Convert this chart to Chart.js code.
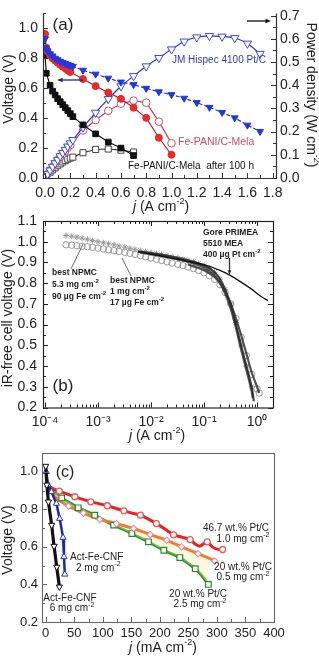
<!DOCTYPE html>
<html>
<head>
<meta charset="utf-8">
<script src="https://cdn.jsdelivr.net/npm/chart.js@4.4.1/dist/chart.umd.min.js"></script>
<style>
  html, body { margin: 0; padding: 0; background: #fff; }
  #wrap { position: relative; width: 319px; height: 665px; overflow: hidden; }
  canvas { position: absolute; left: 0; top: 0; }
</style>
</head>
<body>
<div id="wrap">
  <canvas id="chartA" width="319" height="665"></canvas>
  <canvas id="chartB" width="319" height="665"></canvas>
  <canvas id="chartC" width="319" height="665"></canvas>
</div>
<script>
// ---- panel (a): polarization + power density ----
const jmJ = [0, 0.005, 0.02, 0.04, 0.06, 0.08, 0.10, 0.12, 0.14, 0.16, 0.18, 0.20, 0.22, 0.3, 0.4, 0.5, 0.6, 0.7, 0.8, 0.9, 1.0, 1.1, 1.2, 1.3, 1.4, 1.5, 1.6, 1.7];
const jmV = [0.93, 0.87, 0.85, 0.83, 0.815, 0.80, 0.79, 0.78, 0.772, 0.765, 0.758, 0.752, 0.746, 0.72, 0.694, 0.667, 0.641, 0.624, 0.599, 0.576, 0.557, 0.533, 0.504, 0.472, 0.438, 0.402, 0.353, 0.311];
const jmP = [0, 0.004, 0.017, 0.033, 0.049, 0.064, 0.079, 0.094, 0.108, 0.122, 0.136, 0.150, 0.164, 0.218, 0.282, 0.341, 0.396, 0.44, 0.482, 0.518, 0.555, 0.589, 0.607, 0.613, 0.61, 0.604, 0.58, 0.536];

const feJ = [0, 0.01, 0.02, 0.04, 0.06, 0.08, 0.10, 0.12, 0.14, 0.16, 0.18, 0.20, 0.3, 0.4, 0.5, 0.6, 0.7, 0.8, 0.9, 1.0];
const feV = [0.963, 0.87, 0.845, 0.82, 0.80, 0.785, 0.77, 0.757, 0.745, 0.733, 0.72, 0.708, 0.662, 0.614, 0.571, 0.529, 0.47, 0.402, 0.269, 0.155];
const feP = [0, 0.009, 0.017, 0.033, 0.048, 0.063, 0.077, 0.091, 0.104, 0.117, 0.13, 0.142, 0.205, 0.25, 0.29, 0.32, 0.334, 0.325, 0.243, 0.15];

const agedJ = [0, 0.01, 0.04, 0.06, 0.08, 0.10, 0.12, 0.14, 0.16, 0.18, 0.20, 0.22, 0.3, 0.4, 0.5, 0.6, 0.7];
const agedV = [0.82, 0.70, 0.62, 0.58, 0.555, 0.53, 0.51, 0.49, 0.47, 0.45, 0.43, 0.41, 0.355, 0.295, 0.24, 0.20, 0.15];
const agedP = [0, 0.007, 0.025, 0.035, 0.044, 0.053, 0.061, 0.069, 0.075, 0.081, 0.086, 0.09, 0.109, 0.123, 0.125, 0.12, 0.112];

const aXTicks = [0, 0.2, 0.4, 0.6, 0.8, 1.0, 1.2, 1.4, 1.6, 1.8];
const aYTicks = [0, 0.2, 0.4, 0.6, 0.8, 1.0];
const aY1Ticks = [0, 0.1, 0.2, 0.3, 0.4, 0.5, 0.6, 0.7];

// ---- panel (b): iR-free voltage, log current ----
const starJ = [2.5e-4, 3.2e-4, 4.0e-4, 5.0e-4, 6.3e-4, 7.9e-4, 1.0e-3, 1.26e-3, 1.58e-3, 2.0e-3, 2.5e-3, 3.2e-3, 4.0e-3, 5.0e-3, 6.3e-3, 7.9e-3, 1.0e-2, 1.26e-2, 1.58e-2, 2.0e-2, 2.5e-2, 3.2e-2, 4.0e-2, 5.0e-2, 6.3e-2, 7.9e-2, 0.1, 0.126, 0.158, 0.2, 0.25, 0.32, 0.4, 0.5, 0.63, 0.79];
const starV = [1.030, 1.026, 1.022, 1.017, 1.012, 1.006, 1.000, 0.995, 0.990, 0.985, 0.979, 0.974, 0.968, 0.963, 0.958, 0.953, 0.948, 0.943, 0.938, 0.933, 0.928, 0.922, 0.916, 0.910, 0.904, 0.895, 0.885, 0.872, 0.852, 0.82, 0.77, 0.70, 0.61, 0.50, 0.40, 0.30];
const circJ = [2.5e-4, 3.2e-4, 4.0e-4, 5.0e-4, 6.3e-4, 7.9e-4, 1.0e-3, 1.26e-3, 1.58e-3, 2.0e-3, 2.5e-3, 3.2e-3, 4.0e-3, 5.0e-3, 6.3e-3, 7.9e-3, 1.0e-2, 1.26e-2, 1.58e-2, 2.0e-2, 2.5e-2, 3.2e-2, 4.0e-2, 5.0e-2, 6.3e-2, 7.9e-2, 0.1, 0.126, 0.158, 0.2, 0.25, 0.32, 0.4, 0.5, 0.63, 0.79, 1.0, 1.1];
const circV = [0.985, 0.983, 0.981, 0.978, 0.976, 0.973, 0.969, 0.965, 0.961, 0.957, 0.953, 0.949, 0.944, 0.939, 0.933, 0.927, 0.921, 0.915, 0.909, 0.903, 0.897, 0.891, 0.885, 0.878, 0.870, 0.861, 0.850, 0.836, 0.818, 0.793, 0.755, 0.70, 0.63, 0.54, 0.45, 0.36, 0.29, 0.27];
const dark1J = [0.0057, 0.01, 0.02, 0.032, 0.05, 0.079, 0.1, 0.126, 0.158, 0.2, 0.25, 0.32, 0.4, 0.5, 0.63, 0.79, 0.87];
const dark1V = [0.952, 0.945, 0.933, 0.922, 0.91, 0.895, 0.885, 0.872, 0.852, 0.82, 0.77, 0.695, 0.60, 0.50, 0.40, 0.30, 0.23];
const dark2J = [0.0063, 0.01, 0.02, 0.032, 0.05, 0.079, 0.1, 0.126, 0.158, 0.2, 0.25, 0.32, 0.4, 0.5, 0.63, 0.79, 0.83];
const dark2V = [0.948, 0.94, 0.927, 0.915, 0.903, 0.886, 0.874, 0.858, 0.836, 0.80, 0.75, 0.675, 0.585, 0.48, 0.38, 0.28, 0.245];
const dark3J = [0.05, 0.079, 0.1, 0.126, 0.158, 0.2, 0.25, 0.32, 0.4, 0.5, 0.63, 0.79, 1.0, 1.1];
const dark3V = [0.89, 0.873, 0.862, 0.848, 0.83, 0.80, 0.757, 0.70, 0.63, 0.55, 0.46, 0.37, 0.30, 0.27];
const goreJ = [0.0057, 0.01, 0.02, 0.05, 0.1, 0.2, 0.3, 0.5, 0.8, 1.0, 1.3, 1.6];
const goreV = [0.952, 0.94, 0.925, 0.905, 0.889, 0.862, 0.84, 0.805, 0.77, 0.75, 0.73, 0.716];

const bXTicks = [1e-4, 1e-3, 1e-2, 1e-1, 1];
const bXLabels = ['10\u207B\u2074', '10\u207B\u00B3', '10\u207B\u00B2', '10\u207B\u00B9', '10\u2070'];
const bYTicks = [0.2, 0.3, 0.4, 0.5, 0.6, 0.7, 0.8, 0.9, 1.0, 1.1];

// ---- panel (c): voltage vs mA cm-2 ----
const redLineJ = [2, 10, 24, 37, 51, 65, 79, 93, 108, 122, 137, 151, 166, 180, 194, 209, 224, 238, 253, 262, 270, 283, 292, 300, 310];
const redLineV = [0.94, 0.915, 0.897, 0.882, 0.867, 0.853, 0.84, 0.83, 0.819, 0.806, 0.792, 0.78, 0.769, 0.748, 0.724, 0.695, 0.664, 0.652, 0.639, 0.615, 0.604, 0.627, 0.60, 0.588, 0.586];
const redMarkJ = [24, 51, 79, 108, 137, 166, 194, 224, 253, 283, 310];
const redMarkV = [0.897, 0.867, 0.84, 0.819, 0.792, 0.769, 0.724, 0.664, 0.639, 0.627, 0.586];

const orLineJ = [2, 10, 22, 40, 55, 70, 95, 110, 124, 140, 154, 168, 183, 197, 212, 225, 238, 253, 267, 282, 296];
const orLineV = [0.94, 0.89, 0.85, 0.817, 0.795, 0.775, 0.746, 0.735, 0.724, 0.71, 0.698, 0.683, 0.666, 0.651, 0.636, 0.618, 0.60, 0.582, 0.564, 0.545, 0.525];
const orMarkJ = [40, 66, 95, 124, 154, 183, 212, 238, 267, 296];
const orMarkV = [0.817, 0.78, 0.746, 0.724, 0.698, 0.666, 0.636, 0.60, 0.564, 0.525];

const grLineJ = [2, 10, 28, 42, 57, 72, 86, 100, 119, 135, 151, 165, 180, 193, 207, 221, 235, 248, 262, 274, 285];
const grLineV = [0.945, 0.91, 0.861, 0.835, 0.808, 0.788, 0.769, 0.745, 0.716, 0.694, 0.671, 0.649, 0.627, 0.605, 0.582, 0.563, 0.543, 0.515, 0.484, 0.445, 0.40];
const grMarkJ = [28, 57, 86, 119, 151, 180, 207, 235, 262, 285];
const grMarkV = [0.861, 0.808, 0.769, 0.716, 0.671, 0.627, 0.582, 0.543, 0.484, 0.40];

const cnf2J = [1, 4, 10, 18.7, 24.5, 30.4, 32, 33.5];
const cnf2V = [1.0, 0.93, 0.893, 0.831, 0.751, 0.65, 0.547, 0.454];
const cnf6J = [0, 2, 4.7, 10.5, 14.6, 19.3, 24];
const cnf6V = [1.03, 0.93, 0.84, 0.716, 0.604, 0.493, 0.387];

const cXTicks = [0, 50, 100, 150, 200, 250, 300, 350, 400];
const cYTicks = [0.2, 0.4, 0.6, 0.8, 1.0];

const FONT = '"Liberation Sans", Arial, sans-serif';
Chart.defaults.font.family = FONT;
Chart.defaults.color = '#222';

function pts(xs, ys) { return xs.map((x, i) => ({ x: x, y: ys[i] })); }

// box = width (vertical) or height (horizontal) of the scale box, so labels are not clipped
function axis(pos, type, min, max, ticks, fmt, size, pad, box) {
  return {
    type: type, position: pos, min: min, max: max,
    grid: { display: false, drawTicks: false },
    border: { display: false },
    afterFit: s => { if (s.isHorizontal()) s.height = box; else s.width = box; },
    afterBuildTicks: s => { s.ticks = ticks.map(v => ({ value: v })); },
    ticks: { autoSkip: false, maxRotation: 0, padding: pad, color: '#222', font: { size: size }, callback: fmt }
  };
}

function steps(a, b, s) {
  const out = [];
  for (let v = a; v <= b + 1e-9; v += s) out.push(v);
  return out;
}

function ticksOn(ctx, scale, vals, len, edge, a) {
  ctx.beginPath();
  vals.forEach(v => {
    const p = Math.round(scale.getPixelForValue(v)) + 0.5;
    if (edge === 'bottom') { ctx.moveTo(p, a.bottom); ctx.lineTo(p, a.bottom - len); }
    if (edge === 'top') { ctx.moveTo(p, a.top); ctx.lineTo(p, a.top + len); }
    if (edge === 'left') { ctx.moveTo(a.left, p); ctx.lineTo(a.left + len, p); }
    if (edge === 'right') { ctx.moveTo(a.right, p); ctx.lineTo(a.right - len, p); }
  });
  ctx.stroke();
}

// parts: [text, style] with style '' | 'i' | 'sup'
function rich(ctx, parts, x, y, size, opt) {
  opt = opt || {};
  ctx.save();
  ctx.translate(x, y);
  if (opt.rot) ctx.rotate(opt.rot);
  ctx.fillStyle = opt.color || '#222';
  ctx.textBaseline = 'middle';
  ctx.textAlign = 'left';
  const b = opt.bold ? 'bold ' : '';
  const fontOf = p => (p[1] === 'i' ? 'italic ' : '') + b + (p[1] === 'sup' ? Math.round(size * 0.65) : size) + 'px ' + FONT;
  let w = 0;
  parts.forEach(p => { ctx.font = fontOf(p); w += ctx.measureText(p[0]).width; });
  let cx = opt.align === 'left' ? 0 : opt.align === 'right' ? -w : -w / 2;
  parts.forEach(p => {
    ctx.font = fontOf(p);
    ctx.fillText(p[0], cx, p[1] === 'sup' ? -size * 0.38 : 0);
    cx += ctx.measureText(p[0]).width;
  });
  ctx.restore();
}

function arrow(ctx, x1, y1, x2, y2, color, head) {
  ctx.save();
  ctx.strokeStyle = color; ctx.fillStyle = color; ctx.lineWidth = 1.3;
  const ang = Math.atan2(y2 - y1, x2 - x1);
  ctx.beginPath(); ctx.moveTo(x1, y1); ctx.lineTo(x2 - head * 0.7 * Math.cos(ang), y2 - head * 0.7 * Math.sin(ang)); ctx.stroke();
  ctx.beginPath();
  ctx.moveTo(x2, y2);
  ctx.lineTo(x2 - head * Math.cos(ang - 0.38), y2 - head * Math.sin(ang - 0.38));
  ctx.lineTo(x2 - head * Math.cos(ang + 0.38), y2 - head * Math.sin(ang + 0.38));
  ctx.closePath(); ctx.fill();
  ctx.restore();
}

function line(ctx, x1, y1, x2, y2, color, w) {
  ctx.save();
  ctx.strokeStyle = color; ctx.lineWidth = w;
  ctx.beginPath(); ctx.moveTo(x1, y1); ctx.lineTo(x2, y2); ctx.stroke();
  ctx.restore();
}

const cm2 = lead => [[lead, ''], ['-2', 'sup']];

// ---------------- chart (a) ----------------
function decorA(chart) {
  const { ctx, chartArea: a, scales } = chart;
  ctx.save();
  ctx.strokeStyle = '#333'; ctx.lineWidth = 1.2;
  ctx.beginPath();
  ctx.moveTo(a.left + 0.5, a.top); ctx.lineTo(a.left + 0.5, a.bottom + 0.5);
  ctx.lineTo(a.right + 0.5, a.bottom + 0.5); ctx.lineTo(a.right + 0.5, a.top);
  ctx.stroke();
  ctx.lineWidth = 1;
  ticksOn(ctx, scales.x, aXTicks, 5, 'bottom', a);
  ticksOn(ctx, scales.x, steps(0.1, 1.7, 0.2), 3, 'bottom', a);
  ticksOn(ctx, scales.y, aYTicks, 5, 'left', a);
  ticksOn(ctx, scales.y, steps(0.1, 1.1, 0.2), 3, 'left', a);
  ticksOn(ctx, scales.y1, aY1Ticks, 5, 'right', a);
  ticksOn(ctx, scales.y1, steps(0.05, 0.65, 0.1), 3, 'right', a);
  ctx.restore();

  rich(ctx, [['Voltage (V)', '']], 9, 89, 14, { rot: -Math.PI / 2 });
  rich(ctx, [['Power density (W cm', ''], ['-2', 'sup'], [')', '']], 311, 95, 14, { rot: Math.PI / 2 });
  rich(ctx, [['j', 'i'], [' (A cm', ''], ['-2', 'sup'], [')', '']], 161, 207, 14);
  rich(ctx, [['(a)', '']], 63, 25, 17);
  rich(ctx, [['JM Hispec 4100 Pt/C', '']], 172, 60, 10, { align: 'left', color: '#2a3ad0' });
  rich(ctx, [['Fe-PANI/C-Mela', '']], 178, 142, 10.5, { align: 'left', color: '#d04a6a' });
  rich(ctx, [['Fe-PANI/C-Mela  after 100 h', '']], 128, 166, 10, { align: 'left', color: '#111' });
  arrow(ctx, 83, 80, 57, 80, '#1b2a8a', 6);
  arrow(ctx, 247, 21, 271, 21, '#111', 6);
}

new Chart(document.getElementById('chartA'), {
  type: 'scatter',
  data: {
    datasets: [
      { data: pts(jmJ, jmV), yAxisID: 'y', showLine: true, borderColor: '#2336e0', borderWidth: 1.2, borderDash: [4, 2],
        pointStyle: 'triangle', rotation: 180, pointRadius: 4, pointBackgroundColor: '#2336e0', pointBorderColor: '#2336e0', pointBorderWidth: 1 },
      { data: pts(feJ, feV), yAxisID: 'y', showLine: true, borderColor: '#b3283a', borderWidth: 1.2,
        pointStyle: 'circle', pointRadius: 3.5, pointBackgroundColor: '#ee2a2a', pointBorderColor: '#e02828', pointBorderWidth: 1 },
      { data: pts(agedJ, agedV), yAxisID: 'y', showLine: true, borderColor: '#111', borderWidth: 1.2,
        pointStyle: 'rect', pointRadius: 4, pointBackgroundColor: '#111', pointBorderColor: '#111', pointBorderWidth: 1 },
      { data: pts(jmJ, jmP), yAxisID: 'y1', showLine: true, borderColor: '#2336e0', borderWidth: 1.2, tension: 0.2,
        pointStyle: 'triangle', rotation: 180, pointRadius: 4.8, pointBackgroundColor: '#fff', pointBorderColor: '#3a4ae0', pointBorderWidth: 1 },
      { data: pts(feJ, feP), yAxisID: 'y1', showLine: true, borderColor: '#b8405a', borderWidth: 1.2,
        pointStyle: 'circle', pointRadius: 3.8, pointBackgroundColor: '#fff', pointBorderColor: '#c0506c', pointBorderWidth: 1 },
      { data: pts(agedJ, agedP), yAxisID: 'y1', showLine: true, borderColor: '#333', borderWidth: 1.2,
        pointStyle: 'rect', pointRadius: 4.3, pointBackgroundColor: '#fff', pointBorderColor: '#444', pointBorderWidth: 1 }
    ]
  },
  options: {
    responsive: false, animation: false, devicePixelRatio: 1,
    layout: { padding: { left: 0, right: 0, top: 5, bottom: 462 } },
    plugins: { legend: { display: false }, tooltip: { enabled: false } },
    scales: {
      x: axis('bottom', 'linear', -0.016, 1.826, aXTicks, v => v.toFixed(1), 14, 7, 25),
      y: axis('left', 'linear', 0, 1.1, aYTicks, v => v.toFixed(1), 14, 5, 43),
      y1: axis('right', 'linear', 0, 0.71, aY1Ticks, v => v.toFixed(1), 14, 4, 43)
    }
  },
  plugins: [{ id: 'decorA', afterDraw: decorA }]
});

// ---------------- chart (b) ----------------
function decorB(chart) {
  const { ctx, chartArea: a, scales } = chart;
  ctx.save();
  ctx.strokeStyle = '#222'; ctx.lineWidth = 1.2;
  ctx.strokeRect(a.left + 0.5, a.top + 0.5, a.right - a.left, a.bottom - a.top);
  ctx.lineWidth = 1;
  const minor = [];
  [1e-4, 1e-3, 1e-2, 1e-1, 1].forEach(d => [2, 3, 4, 5, 6, 7, 8, 9].forEach(k => { if (d * k < 2) minor.push(d * k); }));
  ['bottom', 'top'].forEach(e => {
    ticksOn(ctx, scales.x, bXTicks, 5, e, a);
    ticksOn(ctx, scales.x, minor, 3, e, a);
  });
  ['left', 'right'].forEach(e => {
    ticksOn(ctx, scales.y, bYTicks, 5, e, a);
    ticksOn(ctx, scales.y, steps(0.25, 1.05, 0.1), 3, e, a);
  });
  ctx.restore();

  rich(ctx, [['iR-free cell voltage (V)', '']], 8, 318, 14, { rot: -Math.PI / 2 });
  rich(ctx, [['j', 'i'], [' (A cm', ''], ['-2', 'sup'], [')', '']], 157, 436, 14);
  rich(ctx, [['(b)', '']], 63, 386, 17);
  const s = 8.5, o = { align: 'left', bold: true, color: '#222' };
  rich(ctx, [['Gore PRIMEA', '']], 203, 233, s, o);
  rich(ctx, [['5510 MEA', '']], 203, 244, s, o);
  rich(ctx, cm2('400 \u00B5g Pt cm'), 203, 254.5, s, o);
  arrow(ctx, 229.5, 258, 229.5, 275, '#333', 5);
  rich(ctx, [['best NPMC', '']], 52, 273, s, o);
  rich(ctx, cm2('5.3 mg cm'), 52, 285, s, o);
  rich(ctx, cm2('90 \u00B5g Fe cm'), 52, 296.5, s, o);
  line(ctx, 71, 269, 83, 244, '#666', 1);
  rich(ctx, [['best NPMC', '']], 110, 281, s, o);
  rich(ctx, cm2('1 mg cm'), 110, 291.5, s, o);
  rich(ctx, cm2('17 \u00B5g Fe cm'), 110, 302.5, s, o);
  line(ctx, 131, 276, 122, 258, '#666', 1);
}

new Chart(document.getElementById('chartB'), {
  type: 'scatter',
  data: {
    datasets: [
      { data: pts(goreJ, goreV), showLine: true, borderColor: '#111', borderWidth: 1.3, tension: 0.3, pointRadius: 0 },
      { data: pts(dark1J, dark1V), showLine: true, borderColor: 'rgba(40,40,40,0.85)', borderWidth: 2.2, tension: 0.3, pointRadius: 0 },
      { data: pts(dark2J, dark2V), showLine: true, borderColor: 'rgba(60,60,60,0.85)', borderWidth: 2.2, tension: 0.3, pointRadius: 0 },
      { data: pts(dark3J, dark3V), showLine: true, borderColor: 'rgba(50,50,50,0.85)', borderWidth: 2.2, tension: 0.3, pointRadius: 0 },
      { data: pts(starJ, starV), pointStyle: 'star', pointRadius: 3, pointBorderColor: '#999', pointBorderWidth: 1, pointBackgroundColor: 'rgba(0,0,0,0)' },
      { data: pts(circJ, circV), pointStyle: 'circle', pointRadius: 3.2, pointBorderColor: '#999', pointBorderWidth: 1, pointBackgroundColor: 'rgba(0,0,0,0)' }
    ]
  },
  options: {
    responsive: false, animation: false, devicePixelRatio: 1,
    layout: { padding: { left: 0, right: 46, top: 221, bottom: 232.5 } },
    plugins: { legend: { display: false }, tooltip: { enabled: false } },
    scales: {
      x: axis('bottom', 'logarithmic', 9.17e-5, 2.0, bXTicks, (v, i) => bXLabels[i], 14, 6, 25),
      y: axis('left', 'linear', 0.2, 1.1, bYTicks, v => v.toFixed(1), 14, 6, 43)
    }
  },
  plugins: [{ id: 'decorB', afterDraw: decorB }]
});

// ---------------- chart (c) ----------------
function decorC(chart) {
  const { ctx, chartArea: a, scales } = chart;
  ctx.save();
  ctx.strokeStyle = '#666'; ctx.lineWidth = 1.1;
  ctx.strokeRect(a.left + 0.5, a.top + 0.5, a.right - a.left, a.bottom - a.top);
  ctx.lineWidth = 1;
  ticksOn(ctx, scales.x, cXTicks, 5, 'bottom', a);
  ticksOn(ctx, scales.x, steps(25, 375, 50), 3, 'bottom', a);
  ticksOn(ctx, scales.y, cYTicks, 5, 'left', a);
  ticksOn(ctx, scales.y, steps(0.3, 1.1, 0.2), 3, 'left', a);
  ctx.restore();

  rich(ctx, [['Voltage (V)', '']], 8, 540, 14, { rot: -Math.PI / 2 });
  rich(ctx, [['j', 'i'], [' (mA cm', ''], ['-2', 'sup'], [')', '']], 163, 648, 14);
  rich(ctx, [['(c)', '']], 65, 472.5, 16);
  const s = 10;
  rich(ctx, [['Act-Fe-CNF', '']], 70, 557, s, { align: 'left' });
  rich(ctx, cm2('2 mg cm'), 76, 568, s, { align: 'left' });
  rich(ctx, [['Act-Fe-CNF', '']], 70, 598, s);
  rich(ctx, cm2('6 mg cm'), 72, 608.5, s);
  rich(ctx, [['46.7 wt.% Pt/C', '']], 236, 528, s);
  rich(ctx, cm2('1.0 mg cm'), 243, 539, s);
  rich(ctx, [['20 wt.% Pt/C', '']], 243, 567, s);
  rich(ctx, cm2('0.5 mg cm'), 243, 577.5, s);
  rich(ctx, [['20 wt.% Pt/C', '']], 198, 594, s);
  rich(ctx, cm2('2.5 mg cm'), 200, 604.5, s);
}

new Chart(document.getElementById('chartC'), {
  type: 'scatter',
  data: {
    datasets: [
      { data: pts(cnf6J, cnf6V), showLine: true, borderColor: '#111', borderWidth: 3.2,
        pointStyle: 'triangle', rotation: 180, pointRadius: 3.6, pointBackgroundColor: '#fff', pointBorderColor: '#111', pointBorderWidth: 1 },
      { data: pts(cnf2J, cnf2V), showLine: true, borderColor: '#1d2a9e', borderWidth: 2.5,
        pointStyle: 'triangle', pointRadius: 3.6, pointBackgroundColor: '#fff', pointBorderColor: '#2433c0', pointBorderWidth: 1 },
      { data: pts(redMarkJ, redMarkV), pointStyle: 'circle', pointRadius: 3, pointBackgroundColor: '#fff', pointBorderColor: '#e85a5a', pointBorderWidth: 1.3 },
      { data: pts(orMarkJ, orMarkV), pointStyle: 'rectRot', pointRadius: 3.2, pointBackgroundColor: '#fff', pointBorderColor: '#e88aa0', pointBorderWidth: 1.1 },
      { data: pts(grMarkJ, grMarkV), pointStyle: 'rect', pointRadius: 4, pointBackgroundColor: '#fff', pointBorderColor: '#2a8a2a', pointBorderWidth: 1.2 },
      { data: pts(redLineJ, redLineV), showLine: true, borderColor: '#e8231e', borderWidth: 3, tension: 0.25, pointRadius: 0 },
      { data: pts(orLineJ, orLineV), showLine: true, borderColor: '#f47b30', borderWidth: 3, tension: 0.25, pointRadius: 0,
        fill: { target: 7 }, backgroundColor: 'rgba(255,236,170,0.35)' },
      { data: pts(grLineJ, grLineV), showLine: true, borderColor: '#2f9a2f', borderWidth: 3, tension: 0.25, pointRadius: 0 }
    ]
  },
  options: {
    responsive: false, animation: false, devicePixelRatio: 1,
    layout: { padding: { left: 0, right: 45, top: 453, bottom: 18 } },
    plugins: { legend: { display: false }, tooltip: { enabled: false } },
    scales: {
      x: axis('bottom', 'linear', -6.5, 400, cXTicks, v => String(v), 13, 4, 25),
      y: axis('left', 'linear', 0.2, 1.1, cYTicks, v => v.toFixed(1), 13, 4, 42)
    }
  },
  plugins: [{ id: 'decorC', afterDraw: decorC }]
});
</script>
</body>
</html>
